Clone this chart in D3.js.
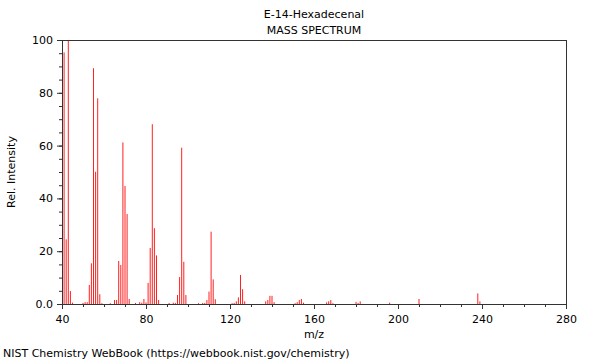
<!DOCTYPE html>
<html><head><meta charset="utf-8">
<script src="https://cdn.jsdelivr.net/npm/d3@7"></script>
<style>body{margin:0;background:#fff;} text{font-family:"DejaVu Sans",sans-serif;}</style>
</head><body>
<svg id="c" width="600" height="360"></svg>
<script>
const mz = [41,42,43,44,45,50,51,52,53,54,55,56,57,58,59,63,65,66,67,68,69,70,71,72,75,77,78,79,80,81,82,83,84,85,86,91,93,94,95,96,97,98,99,105,107,108,109,110,111,112,113,121,122,123,124,125,126,127,137,138,139,140,141,151,152,153,154,155,166,167,168,169,180,181,182,196,210,238,239];
const intensity = [95.3,24.5,100,4.9,0.5,0.4,0.7,0.7,7.2,15.4,89.3,50.1,77.9,3.7,0.3,0.3,1.5,1.5,16.3,14.8,61.2,44.7,34.1,1.9,0.4,0.7,0.5,1.9,0.6,8,21.2,68.1,28.7,18.4,1.5,0.4,0.5,0.4,3.4,10.2,59.2,16,3.4,0.3,0.4,0.4,1.5,4.7,27.4,9.3,1.8,0.3,0.4,1.0,2.5,11,5.6,1.0,1.0,1.5,3.1,3.1,0.7,0.3,0.7,1.5,1.9,0.5,0.6,1.0,1.5,0.3,0.8,0.4,1.0,0.5,1.9,4.0,1.0];
const xTicks = [40,80,120,160,200,240,280];
const yTicks = [0,20,40,60,80,100];
const titleLines = ["E-14-Hexadecenal","MASS SPECTRUM"];
const xLabel = "m/z", yLabel = "Rel. Intensity";
const footer = "NIST Chemistry WebBook (https://webbook.nist.gov/chemistry)";

const L=62,R=566,T=40,B=304;
const svg=d3.select("#c");
const x=d3.scaleLinear().domain([40,280]).range([L,R]);
const y=d3.scaleLinear().domain([0,100]).range([B,T]);

// bars
svg.append("g").selectAll("line").data(mz.map((m,i)=>[m,intensity[i]])).join("line")
  .attr("x1",d=>x(d[0])).attr("x2",d=>x(d[0]))
  .attr("y1",y(0)).attr("y2",d=>y(d[1]))
  .attr("stroke","#ff2020").attr("stroke-width",1);

// frame
svg.append("rect").attr("x",L+0.5).attr("y",T+0.5).attr("width",R-L).attr("height",B-T)
  .attr("fill","none").attr("stroke","#333").attr("stroke-width",1);

// minor ticks
const gxm=svg.append("g").attr("transform",`translate(0,${B})`)
  .call(d3.axisBottom(x).tickValues(d3.range(40,281,10)).tickSize(3).tickFormat(""));
const gym=svg.append("g").attr("transform",`translate(${L},0)`)
  .call(d3.axisLeft(y).tickValues(d3.range(0,101,5)).tickSize(3).tickFormat(""));
// major
const gx=svg.append("g").attr("transform",`translate(0,${B})`)
  .call(d3.axisBottom(x).tickValues(xTicks).tickSize(5).tickPadding(6));
const gy=svg.append("g").attr("transform",`translate(${L},0)`)
  .call(d3.axisLeft(y).tickValues(yTicks).tickSize(5).tickPadding(4).tickFormat(d=>d===0?"0.0":d));
[gxm,gym,gx,gy].forEach(g=>{g.select(".domain").attr("stroke","#333");g.selectAll(".tick line").attr("stroke","#333");});
[gx,gy].forEach(g=>g.selectAll("text").attr("font-size",11).attr("fill","#000").attr("font-family","DejaVu Sans"));

// texts
svg.selectAll(".title").data(titleLines).join("text")
  .attr("x",(L+R)/2).attr("y",(d,i)=>18+i*16).attr("text-anchor","middle")
  .attr("font-size",11).text(d=>d);
svg.append("text").attr("x",(L+R)/2).attr("y",338).attr("text-anchor","middle").attr("font-size",11).text(xLabel);
svg.append("text").attr("transform",`translate(15,${(T+B)/2}) rotate(-90)`).attr("text-anchor","middle").attr("font-size",11).text(yLabel);
svg.append("text").attr("x",3).attr("y",357).attr("font-size",11).text(footer);
</script>
</body></html>
